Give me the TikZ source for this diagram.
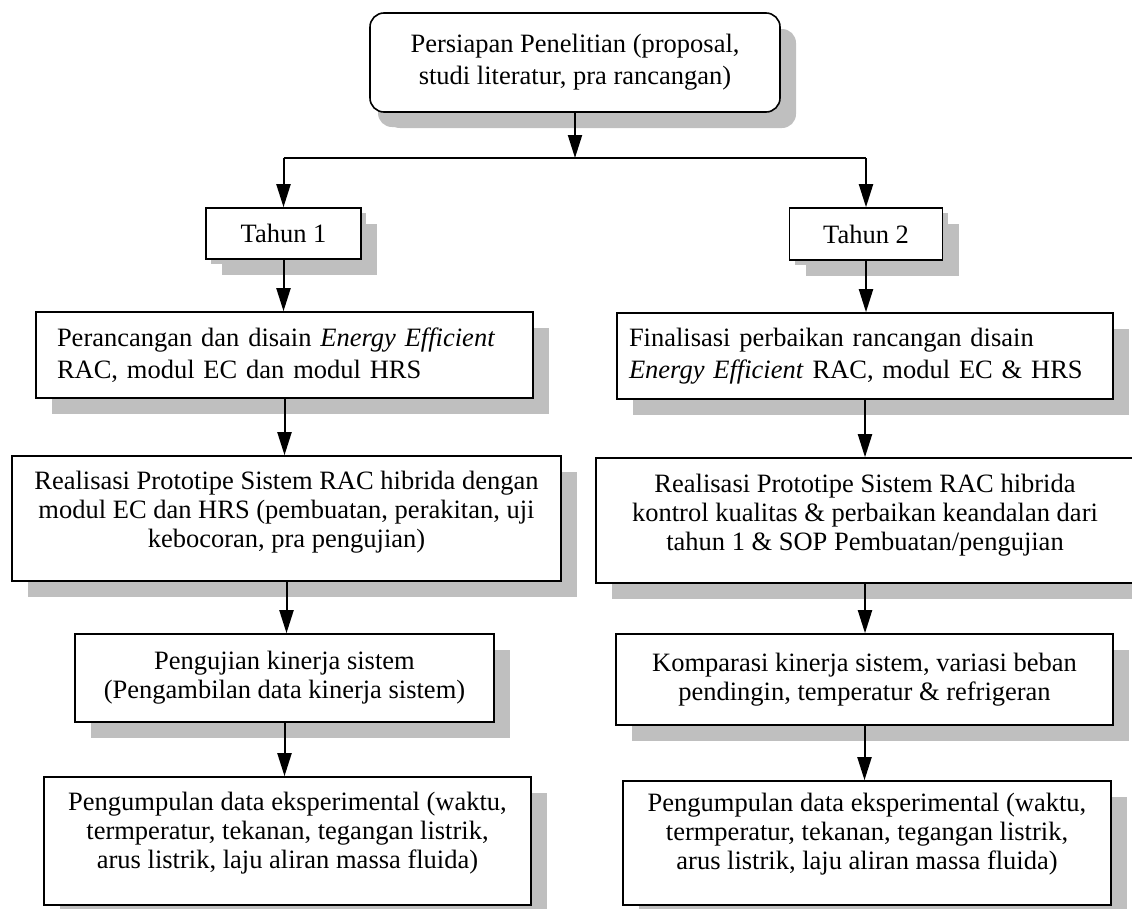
\documentclass[tikz,border=0pt]{standalone}
\usepackage{fontspec}
\setmainfont{Liberation Serif}
\usetikzlibrary{arrows.meta,shadows}

\tikzset{
  box/.style={draw, line width=1.6pt, fill=white, inner sep=0pt, align=center,
    font=\fontsize{26.5}{29}\selectfont,
    drop shadow={shadow xshift=16pt, shadow yshift=-16pt, fill=black!25, opacity=1}},
  leftbox/.style={box, align=left, font=\fontsize{26.5}{32}\selectfont},
  topbox/.style={box, rounded corners=14pt, font=\fontsize{26.5}{32}\selectfont,
    drop shadow={shadow xshift=8pt, shadow yshift=-15pt, fill=black!25, opacity=1}},
  yearbox/.style={box,
    drop shadow={shadow xshift=5pt, shadow yshift=-5pt, fill=black!25, opacity=1}},
  arr/.style={line width=2pt, -{Triangle[length=23pt,width=14pt]}},
  branch/.style={line width=1.3pt}
}

\begin{document}
\begin{tikzpicture}[x=1pt,y=-1pt]
  \useasboundingbox (0,0) rectangle (1132,908);

  \node[topbox, minimum width=410pt, minimum height=99pt] (prep) at (575,62.5)
    {Persiapan Penelitian (proposal,\\ studi literatur, pra rancangan)};
  \coordinate (split) at (575,158);

  \node[yearbox, minimum width=155pt, minimum height=51pt] (T1) at (283.5,233.5) {Tahun 1};
  \node[yearbox, minimum width=153pt, minimum height=52pt] (T2) at (866,234) {Tahun 2};

  % tahun 1
  \node[leftbox, minimum width=497pt, minimum height=86pt, text width=455pt] (L2) at (284.5,355)
    {Perancangan dan disain \textit{Energy Efficient}\\ RAC, modul EC dan modul HRS};
  \node[box, minimum width=549pt, minimum height=125pt, text depth=19pt] (L3) at (286.5,518.5)
    {Realisasi Prototipe Sistem RAC hibrida dengan\\ modul EC dan HRS (pembuatan, perakitan, uji\\ kebocoran, pra pengujian)};
  \node[box, minimum width=419pt, minimum height=88pt] (L4) at (284.5,678)
    {Pengujian kinerja sistem\\ (Pengambilan data kinerja sistem)};
  \node[box, minimum width=487pt, minimum height=128pt, text depth=22pt] (L5) at (287.5,841)
    {Pengumpulan data eksperimental (waktu,\\ termperatur, tekanan, tegangan listrik,\\ arus listrik, laju aliran massa fluida)};

  % tahun 2
  \node[leftbox, minimum width=496pt, minimum height=86pt, text width=472pt] (R2) at (865,356)
    {Finalisasi perbaikan rancangan disain\\ \textit{Energy Efficient} RAC, modul EC \& HRS};
  \node[box, minimum width=538pt, minimum height=125pt, text depth=17pt] (R3) at (865,520.5)
    {Realisasi Prototipe Sistem RAC hibrida\\ kontrol kualitas \& perbaikan keandalan dari\\ tahun 1 \& SOP Pembuatan/pengujian};
  \node[box, minimum width=497pt, minimum height=91pt] (R4) at (864.5,679.5)
    {Komparasi kinerja sistem, variasi beban\\ pendingin, temperatur \& refrigeran};
  \node[box, minimum width=488pt, minimum height=124pt, text depth=24pt] (R5) at (867,843)
    {Pengumpulan data eksperimental (waktu,\\ termperatur, tekanan, tegangan listrik,\\ arus listrik, laju aliran massa fluida)};

  \draw[arr] (prep.south) -- (split);
  \draw[branch] (T1.north |- split) -- (T2.north |- split);
  \draw[arr] (T1.north |- split) -- (T1.north);
  \draw[arr] (T2.north |- split) -- (T2.north);
  \foreach \a/\b in {T1/L2, L2/L3, L3/L4, L4/L5, T2/R2, R2/R3, R3/R4, R4/R5}
    \draw[arr] (\a.south) -- (\a.south |- \b.north);
\end{tikzpicture}
\end{document}
